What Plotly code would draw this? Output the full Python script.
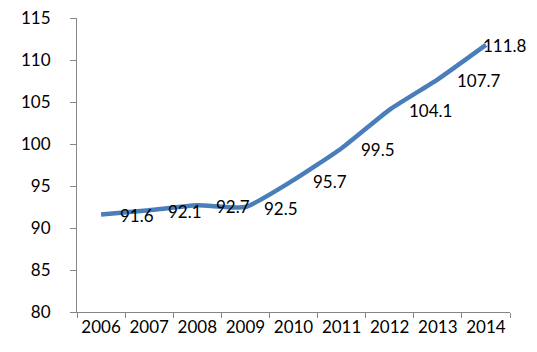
import plotly.graph_objects as go

years = ["2006", "2007", "2008", "2009", "2010", "2011", "2012", "2013", "2014"]
values = [91.6, 92.1, 92.7, 92.5, 95.7, 99.5, 104.1, 107.7, 111.8]
labels = ["91.6", "92.1", "92.7", "92.5", "95.7", "99.5", "104.1", "107.7", "111.8"]
label_shift = [17, 17, 17, 17, 17, 17, 17, 17, -5]
y_ticks = [80, 85, 90, 95, 100, 105, 110, 115]

FONT = "Lato"

fig = go.Figure()
fig.add_trace(go.Scatter(
    x=years, y=values,
    mode="lines",
    line=dict(color="#4A7EBB", width=4.5, shape="spline", smoothing=0.5),
    showlegend=False,
))

for i, (v, t, s) in enumerate(zip(values, labels, label_shift)):
    fig.add_annotation(
        x=i, y=v, text=t, showarrow=False,
        xanchor="left", yanchor="middle", xshift=s, yshift=-1,
        font=dict(family=FONT, size=17, color="#000000"),
    )

axis_col = "#868686"
fig.update_layout(
    width=537, height=352,
    margin=dict(l=77, r=27, t=18, b=40),
    paper_bgcolor="white", plot_bgcolor="white",
    font=dict(family=FONT, size=17, color="#000000"),
    xaxis=dict(
        type="category", categoryorder="array", categoryarray=years,
        range=[-0.5, len(years) - 0.5],
        tickson="boundaries", tickangle=0, automargin=False,
        showline=True, linecolor=axis_col, linewidth=1,
        ticks="outside", ticklen=5, tickcolor=axis_col,
        showgrid=False, zeroline=False,
        tickfont=dict(family=FONT, size=17),
    ),
    yaxis=dict(
        range=[80, 115], tickvals=y_ticks, ticktext=[str(v) for v in y_ticks],
        showline=True, linecolor=axis_col, linewidth=1,
        ticks="outside", ticklen=6, tickcolor=axis_col,
        showgrid=False, zeroline=False, automargin=False,
        ticklabelstandoff=16,
        tickfont=dict(family=FONT, size=17),
    ),
)

fig.write_html("out.html")
